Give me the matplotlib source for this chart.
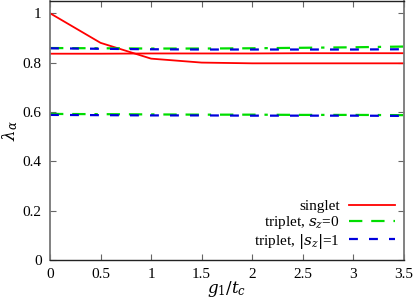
import numpy as np
import matplotlib
matplotlib.use("Agg")
import matplotlib.pyplot as plt

plt.rcParams['font.family'] = ['Liberation Serif', 'DejaVu Serif']
plt.rcParams['mathtext.fontset'] = 'dejavuserif'

g = [0, 0.5, 1.0, 1.5, 2.0, 2.5, 3.0, 3.5]

singlet_a = [1.0, 0.88, 0.816, 0.800, 0.797, 0.797, 0.797, 0.797]
singlet_b = [0.836, 0.836, 0.837, 0.837, 0.837, 0.838, 0.838, 0.838]
tri0_a = [0.859, 0.858, 0.857, 0.857, 0.858, 0.860, 0.862, 0.865]
tri0_b = [0.592, 0.591, 0.590, 0.589, 0.589, 0.588, 0.588, 0.587]
tri1_a = [0.858, 0.856, 0.854, 0.853, 0.853, 0.853, 0.853, 0.854]
tri1_b = [0.588, 0.587, 0.586, 0.586, 0.585, 0.585, 0.585, 0.584]

xticks = [0, 0.5, 1, 1.5, 2, 2.5, 3, 3.5]
xticklabels = ["0", "0.5", "1", "1.5", "2", "2.5", "3", "3.5"]
yticks = [0, 0.2, 0.4, 0.6, 0.8, 1]
yticklabels = ["0", "0.2", "0.4", "0.6", "0.8", "1"]

fig = plt.figure(figsize=(4.15, 2.99), dpi=100)
ax = fig.add_axes([0.1205, 0.1304, 0.8525, 0.8666])

l1, = ax.plot(g, singlet_a, color="#ff0000", lw=1.3, label="singlet")
ax.plot(g, singlet_b, color="#ff0000", lw=1.3)
l2, = ax.plot(g, tri0_a, color="#00dd00", lw=1.6, dashes=(6, 4, 6, 4, 1.5, 4),
              label="triplet, $s_z$=0")
ax.plot(g, tri0_b, color="#00dd00", lw=1.6, dashes=(6, 4, 6, 4, 1.5, 4))
l3, = ax.plot(g, tri1_a, color="#0000dd", lw=1.6, dashes=(4, 5),
              label="triplet, $|s_z|$=1")
ax.plot(g, tri1_b, color="#0000dd", lw=1.6, dashes=(4, 5))

ax.set_xlim(0, 3.5)
ax.set_ylim(0, 1.05)
ax.set_xticks(xticks)
ax.set_xticklabels(xticklabels)
ax.set_yticks(yticks)
ax.set_yticklabels(yticklabels)
ax.tick_params(direction="in", top=True, right=True, labelsize=11, length=4,
               color="#666666", pad=6)
for s in ["left", "right"]:
    ax.spines[s].set_color("#777777")
    ax.spines[s].set_linewidth(1.3)
for s in ["top", "bottom"]:
    ax.spines[s].set_color("#222222")
    ax.spines[s].set_linewidth(1.0)

ax.set_xlabel("$g_1/t_c$", fontsize=12, labelpad=-2)
ax.set_ylabel(r"$\lambda_\alpha$", fontsize=12, labelpad=2)

ax.legend(handles=[l1, l2, l3], loc="lower right", frameon=False,
          markerfirst=False, fontsize=11, handlelength=3.0,
          handletextpad=0.6, labelspacing=0.05, borderaxespad=0.2)

fig.savefig("out.png", dpi=100)
